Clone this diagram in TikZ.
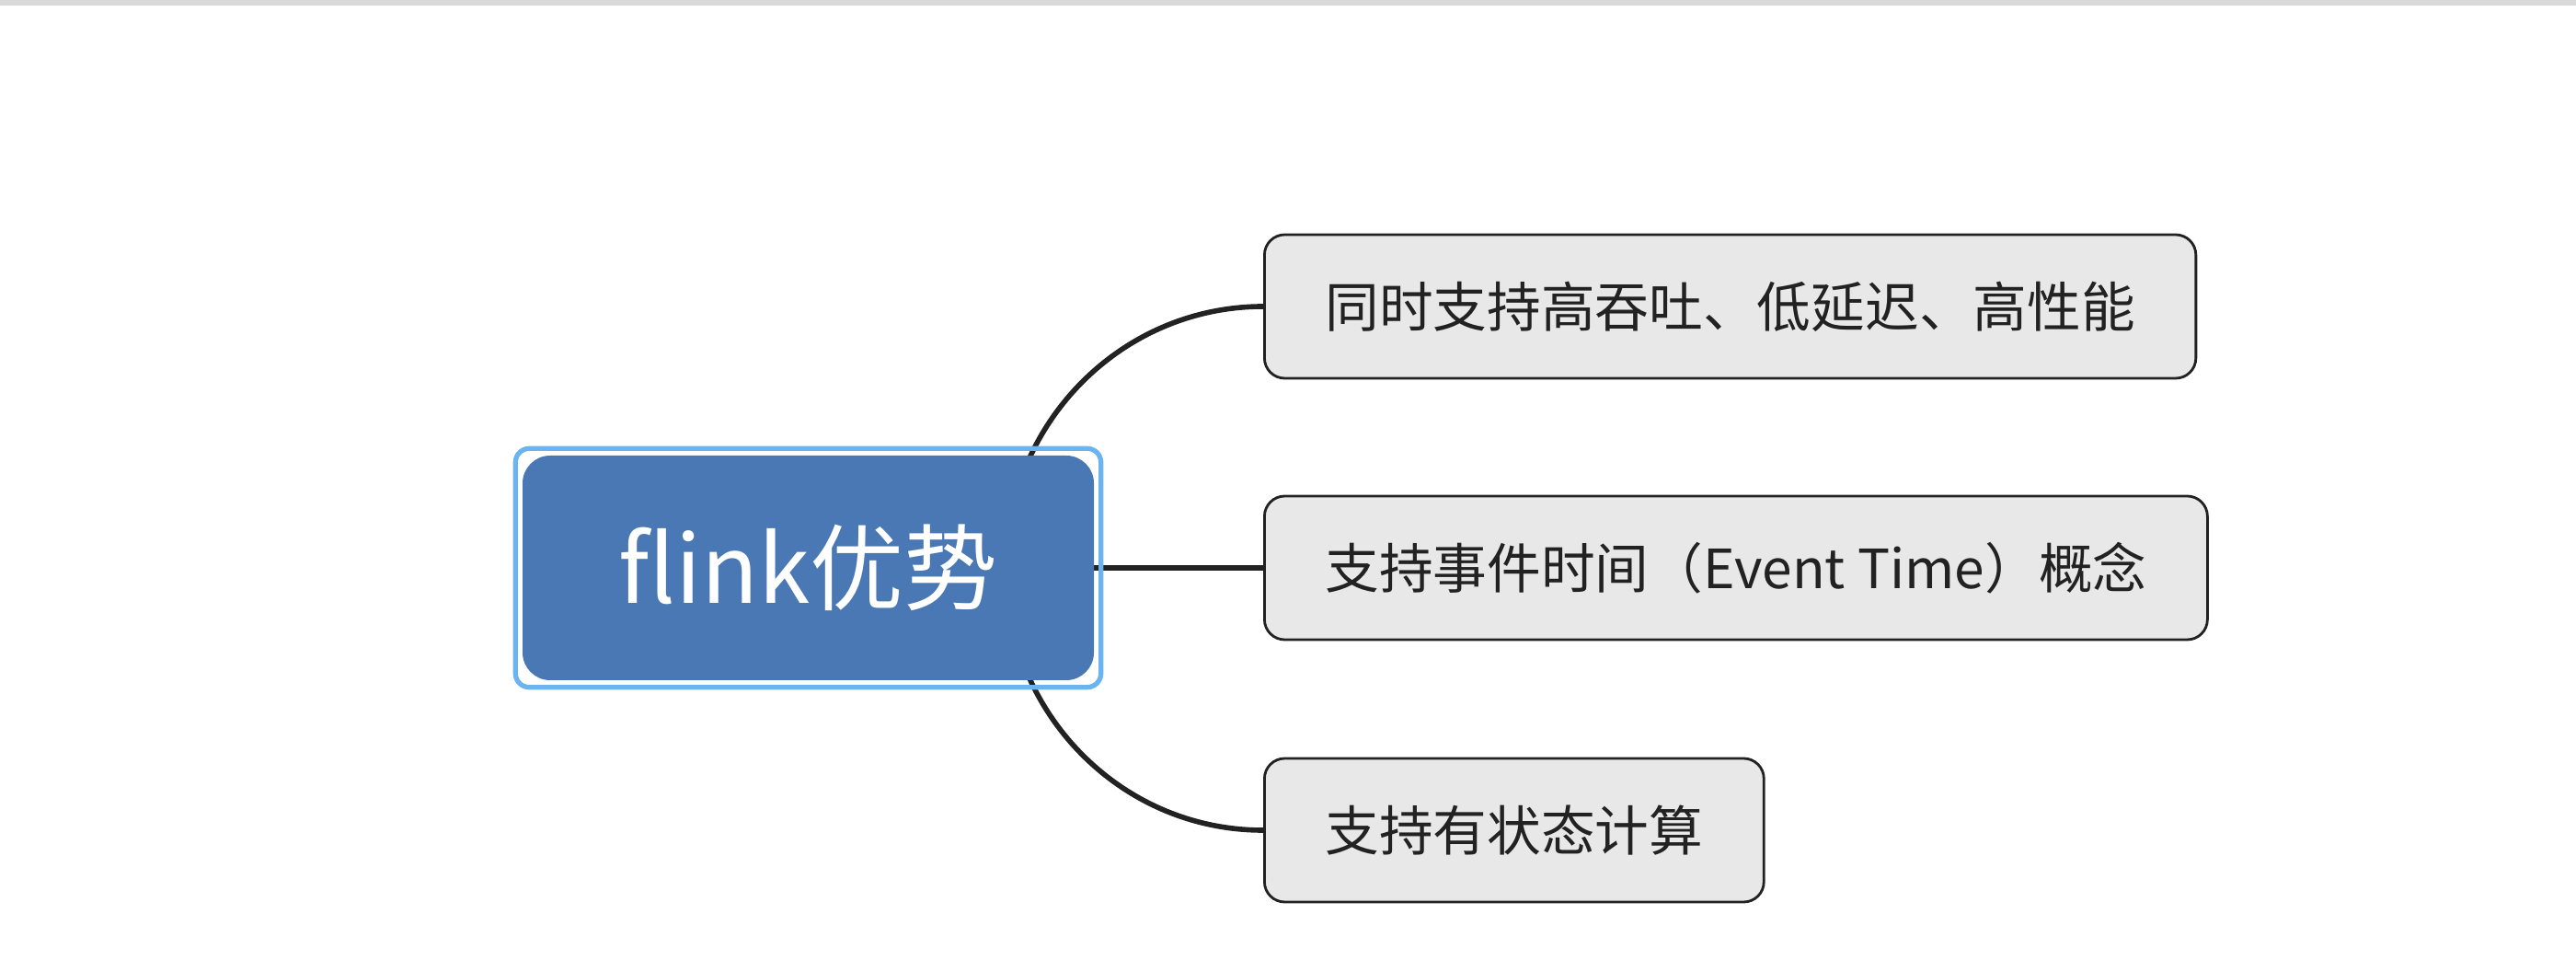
\documentclass[tikz,border=0pt]{standalone}
\usepackage{fontspec}
\setmainfont{Noto Sans CJK SC}
\usetikzlibrary{fit,backgrounds}
\definecolor{hubblue}{HTML}{4A78B4}
\definecolor{ringblue}{HTML}{6CB4F0}
\definecolor{leafgray}{HTML}{E8E8E8}
\definecolor{inkdark}{HTML}{222222}
\begin{document}
\begin{tikzpicture}[
  root/.style = {fill=hubblue,rounded corners=0.3cm,text=white,minimum width=6.21cm,minimum height=2.44cm,font=\fontsize{29}{35}\selectfont},
  ring/.style = {draw=ringblue,line width=1.5pt,rounded corners=0.15cm,inner sep=0.07cm},
  leaf/.style = {draw=inkdark,line width=0.8pt,fill=leafgray,rounded corners=0.22cm,text=inkdark,anchor=west,inner xsep=0.66cm,minimum height=1.56cm,font=\fontsize{16.7}{20}\selectfont},
  link/.style = {draw=inkdark,line width=1.6pt}]
  \useasboundingbox (0,0) rectangle (28,10.42);
  \fill[gray!30] (0,10.36) rectangle (28,10.42);
  \node[root] (main) at (8.785,4.25) {flink优势};
  \node[ring, fit=(main)] (frame) {};
  \node[leaf] (c1) at (13.73,7.09) {同时支持高吞吐、低延迟、高性能};
  \node[leaf] (c2) at (13.73,4.25) {支持事件时间（Event Time）概念};
  \node[leaf] (c3) at (13.73,1.40) {支持有状态计算};
  \coordinate (hub) at (10.93,4.25);
  \begin{scope}[on background layer]
  \draw[link] (hub) to [out=90,in=180] (c1.west);
  \draw[link] (hub) -- (c2.west);
  \draw[link] (hub) to [out=-90,in=180] (c3.west);
  \end{scope}
\end{tikzpicture}
\end{document}
